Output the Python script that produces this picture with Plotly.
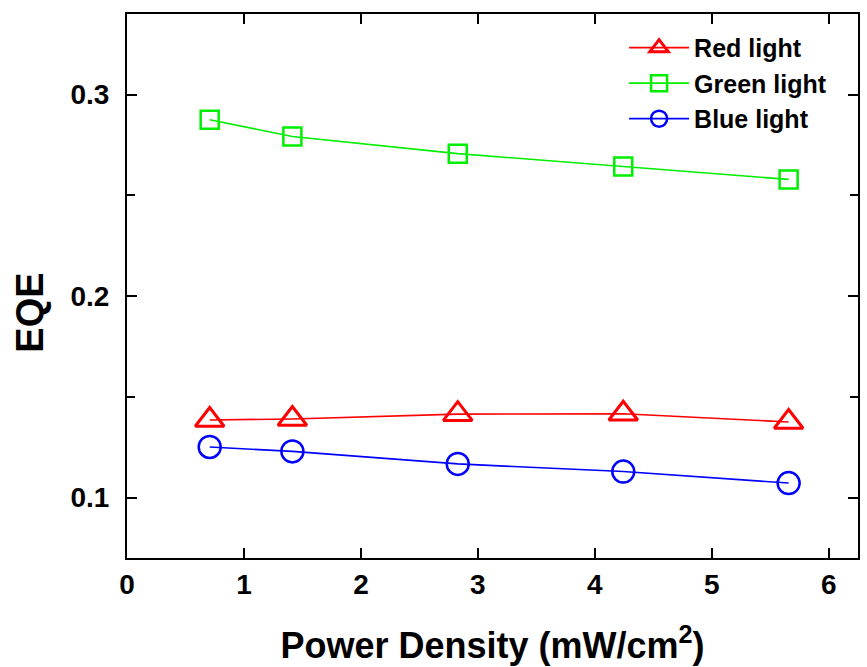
import plotly.graph_objects as go

# Power density of the illumination (mW/cm^2)
power_density = [0.707, 1.414, 2.828, 4.243, 5.657]

# External quantum efficiency under each light colour
eqe_red = [0.1385, 0.1390, 0.1414, 0.1416, 0.1375]
eqe_green = [0.2875, 0.2792, 0.2707, 0.2643, 0.2579]
eqe_blue = [0.1251, 0.1229, 0.1167, 0.1129, 0.1072]

series_names = ["Red light", "Green light", "Blue light"]
x_ticks = [0, 1, 2, 3, 4, 5, 6]
y_ticks = [0.1, 0.2, 0.3]

FONT = "Liberation Sans, Arial, sans-serif"

fig = go.Figure()

fig.add_trace(go.Scatter(
    x=power_density, y=eqe_red, name=series_names[0], mode="lines+markers",
    line=dict(color="#ff0000", width=1.6),
    marker=dict(symbol="triangle-up-open", size=25, color="#ff0000",
                line=dict(width=3, color="#ff0000")),
))
fig.add_trace(go.Scatter(
    x=power_density, y=eqe_green, name=series_names[1], mode="lines+markers",
    line=dict(color="#00ee00", width=1.6),
    marker=dict(symbol="square-open", size=18, color="#00ee00",
                line=dict(width=2.5, color="#00ee00")),
))
fig.add_trace(go.Scatter(
    x=power_density, y=eqe_blue, name=series_names[2], mode="lines+markers",
    line=dict(color="#0000ff", width=1.6),
    marker=dict(symbol="circle-open", size=22, color="#0000ff",
                line=dict(width=2.5, color="#0000ff")),
))

axis_common = dict(
    showline=True, linecolor="black", linewidth=2, mirror="ticks",
    ticks="inside", tickcolor="black", tickwidth=2, ticklen=10,
    showgrid=False, zeroline=False,
    tickfont=dict(family=FONT, size=28, color="black", weight="bold"),
)

fig.update_xaxes(
    range=[0, 6.25], tickvals=x_ticks, ticktext=[str(v) for v in x_ticks],
    ticklabelstandoff=0,
    title=dict(text="Power Density (mW/cm<sup>2</sup>)", standoff=34,
               font=dict(family=FONT, size=36, color="black", weight="bold")),
    **axis_common,
)
fig.update_yaxes(
    range=[0.07, 0.34], tickvals=y_ticks, ticktext=[f"{v:.1f}" for v in y_ticks],
    ticklabelstandoff=10,
    minor=dict(dtick=0.05, tick0=0.0, ticks="inside", ticklen=8,
               tickwidth=2, tickcolor="black"),
    **axis_common,
)

# Vertical y-axis label
fig.add_annotation(
    text="EQE", textangle=-90, showarrow=False,
    xref="paper", yref="paper", x=-0.132, y=0.45,
    xanchor="center", yanchor="middle",
    font=dict(family=FONT, size=38, color="black", weight="bold"),
)

fig.update_layout(
    width=867, height=667,
    margin=dict(l=127, r=7, t=14, b=109),
    plot_bgcolor="white", paper_bgcolor="white",
    showlegend=True,
    legend=dict(
        x=0.68, y=0.98, xanchor="left", yanchor="top",
        bgcolor="rgba(0,0,0,0)", borderwidth=0,
        font=dict(family=FONT, size=25, color="black", weight="bold"),
        itemwidth=60, tracegroupgap=0,
    ),
)

fig.write_html("out.html")
